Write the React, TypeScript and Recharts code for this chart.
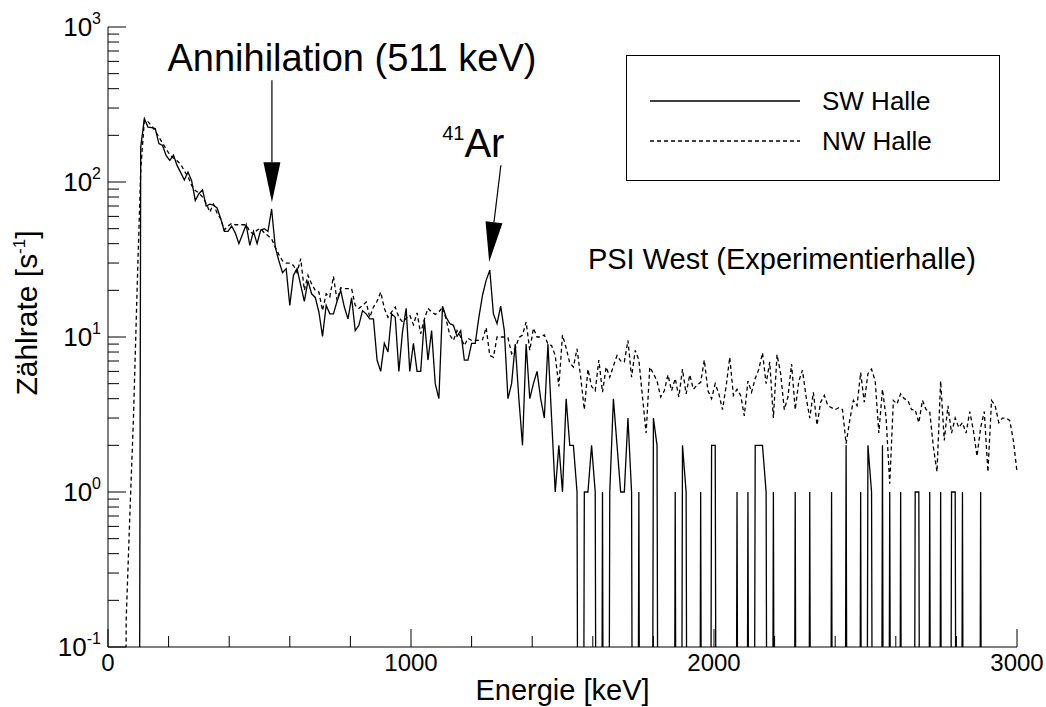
import React from 'react';
import { LineChart, Line, XAxis, YAxis, Legend, ReferenceDot } from 'recharts';

const FONT = '"Liberation Sans", Arial, Helvetica, sans-serif';

// channel width of the spectra (keV); energy of channel i = i * BIN_KEV
const BIN_KEV = 12;

// SW Halle count rate [1/s] per channel (0 = no counts)
const swCounts = [
  0, 0, 0, 0, 0, 0, 0, 0, 0, 168,
  256, 226, 224, 221, 177, 172, 148, 138, 149, 128,
  115, 103, 116, 102, 76, 84, 89, 70, 72, 71,
  68, 58, 48, 48, 52, 47, 40, 46, 53, 39,
  48, 40, 49, 50, 48, 67, 38, 31, 26, 27.6,
  16, 25, 27.6, 21.6, 17, 23, 19, 18, 14.5, 10.1,
  16, 14.1, 14.1, 17, 20, 15.6, 13.1, 17.9, 11, 11.9,
  14.8, 14.1, 13.1, 13.1, 7.1, 6, 9.1, 8, 14.1, 13.4,
  6, 10.8, 15.3, 6, 9.1, 6, 6, 12.9, 7.1, 11,
  5, 4, 15.8, 13.4, 12.2, 11.9, 10.1, 11, 7.1, 7.1,
  9.1, 9.1, 13.4, 18.6, 23.2, 27, 14.1, 12.2, 15.8, 11,
  4, 5, 9, 4, 2, 9, 4, 5, 6, 4,
  3, 9, 3, 1, 2, 1, 4, 2, 2, 1,
  0, 1, 1, 2, 1, 0, 1, 0, 1, 4,
  2, 1, 1, 3, 1, 0, 1, 0, 0, 0,
  3, 2, 0, 0, 0, 0, 1, 0, 2, 1,
  0, 0, 0, 1, 0, 0, 2, 2, 0, 0,
  0, 0, 0, 1, 0, 0, 1, 0, 2, 2,
  2, 1, 0, 1, 0, 0, 0, 0, 0, 1,
  0, 0, 0, 1, 0, 0, 0, 0, 0, 1,
  0, 0, 0, 2, 0, 0, 0, 1, 0, 2,
  1, 0, 0, 2, 0, 1, 0, 0, 1, 0,
  0, 0, 1, 1, 0, 0, 1, 0, 0, 1,
  0, 0, 1, 1, 0, 1, 0, 0, 0, 0,
  1, 0, 0, 0, 0, 0, 0, 0, 0, 0, 0,
];

// NW Halle count rate [1/s] per channel
const nwCounts = [
  0, 0, 0, 0, 0, 0.15, 0.7, 3, 20, 120,
  250, 245, 230, 213, 195, 178, 163, 150, 143, 137,
  130, 118, 108, 95, 88, 85, 80, 73, 64, 72,
  63, 58, 49, 52, 54, 53, 53, 53, 53, 48,
  46, 49, 50, 47, 45, 43, 38, 34, 31, 30,
  30, 29, 26, 32, 20, 25, 22, 20, 19.5, 14.8,
  19, 18.1, 24.6, 17.2, 20.8, 20.5, 20.5, 20.5, 16, 15.3,
  16, 16.8, 13.4, 15.6, 17, 19.5, 15.3, 13.4, 14.5, 15.6,
  13.4, 12.5, 13.2, 13.8, 12, 14.3, 10.5, 13, 15.3, 14.5,
  14, 14.5, 15.6, 13, 10.3, 9.5, 11, 10, 8.8, 9.8,
  9.5, 9.5, 9.5, 9.6, 11.5, 7.6, 7.4, 10, 10, 10,
  9.9, 7.8, 8.4, 9.9, 10.3, 12.5, 8.2, 11.4, 10, 10,
  10.3, 9, 8.8, 7.6, 4.8, 10.3, 8.5, 6.8, 6.4, 8.4,
  5.5, 3.4, 6.2, 4.8, 4.5, 7.1, 4.4, 6.4, 5.5, 6.5,
  7.6, 7, 6.9, 9.5, 5.5, 8.2, 7.1, 4.1, 2.4, 6.4,
  5.8, 5.2, 4.1, 4.5, 5.7, 4.5, 5.4, 4.1, 6.2, 4.3,
  5.7, 4.6, 4.9, 5.1, 7.1, 4.5, 4, 5, 4.3, 3.4,
  4.8, 7.4, 4.2, 4.6, 4.2, 3.1, 5.2, 4.4, 5.4, 6.2,
  7.9, 5, 6.9, 3, 7.7, 5.8, 3.4, 4.1, 6.7, 3.4,
  5.2, 6.1, 4.1, 3, 4.4, 2.7, 3.8, 4.2, 3.6, 3.5,
  3.4, 3.5, 3.4, 2.05, 2.9, 3.9, 3.6, 5.9, 3.8, 5.8,
  6.2, 5.2, 2.4, 4.6, 3, 1.13, 3.9, 3.7, 4.3, 4,
  3.9, 3.4, 3.4, 2.8, 3.9, 3.4, 3.3, 1.95, 1.35, 5.2,
  2.15, 3.6, 2.4, 3, 2.6, 2.8, 2.4, 3.3, 2.5, 1.7,
  2.6, 3.3, 1.35, 3.9, 3.6, 2.8, 3, 3, 2.9, 2.15, 1.35,
];

const xTicks = [0, 200, 400, 600, 800, 1000, 1200, 1400, 1600, 1800, 2000, 2200, 2400, 2600, 2800, 3000];
const xLabelTicks = [0, 1000, 2000, 3000];
const yTicks = [
  0.1, 0.2, 0.3, 0.4, 0.5, 0.6, 0.7, 0.8, 0.9,
  1, 2, 3, 4, 5, 6, 7, 8, 9,
  10, 20, 30, 40, 50, 60, 70, 80, 90,
  100, 200, 300, 400, 500, 600, 700, 800, 900, 1000,
];
const yDecadeLabels: Record<string, string> = { '0.1': '-1', '1': '0', '10': '1', '100': '2', '1000': '3' };

const series = [
  { key: 'sw', name: 'SW Halle', dash: undefined as string | undefined },
  { key: 'nw', name: 'NW Halle', dash: '4 3' },
];

// log axis cannot show zero counts: draw them far below the axis (clipped)
const ZERO_FLOOR = 1e-9;
const data = swCounts.map((sw, i) => ({
  e: i * BIN_KEV,
  sw: sw > 0 ? sw : ZERO_FLOOR,
  nw: nwCounts[i] > 0 ? nwCounts[i] : ZERO_FLOOR,
}));

const renderXTick = (props: any) => {
  const { x, y, payload } = props;
  const major = xLabelTicks.includes(payload.value);
  return (
    <g>
      <line x1={x} x2={x} y1={y} y2={y - (major ? 18 : 11)} stroke="#000" strokeWidth={1} />
      {major && (
        <text x={x} y={y + 24} textAnchor="middle" fontSize={24} fontFamily={FONT} fill="#000">
          {payload.value}
        </text>
      )}
    </g>
  );
};

const renderYTick = (props: any) => {
  const { x, y, payload } = props;
  const exp = yDecadeLabels[String(payload.value)];
  const major = exp !== undefined;
  return (
    <g>
      <line x1={x} x2={x + (major ? 18 : 11)} y1={y} y2={y} stroke="#000" strokeWidth={1} />
      {major && (
        <text x={x - 7} y={y + 9} textAnchor="end" fontSize={26} fontFamily={FONT} fill="#000">
          10
          <tspan fontSize={16} dy={-12}>{exp}</tspan>
        </text>
      )}
    </g>
  );
};

const renderXTitle = (props: any) => {
  const vb = props.viewBox || { x: 108, y: 647, width: 909, height: 60 };
  return (
    <text x={vb.x + vb.width / 2} y={vb.y + 53} textAnchor="middle" fontSize={29} fontFamily={FONT} fill="#000">
      Energie [keV]
    </text>
  );
};

const renderYTitle = () => (
  <text x={37} y={313} transform="rotate(-90, 37, 313)" textAnchor="middle" fontSize={30} fontFamily={FONT} fill="#000">
    Zählrate [s
    <tspan fontSize={17} dy={-12}>-1</tspan>
    <tspan dy={12}>]</tspan>
  </text>
);

const AnnihilationMark = (props: any) => {
  const { cx, cy } = props;
  return (
    <g>
      <line x1={cx} y1={cy - 122} x2={cx} y2={cy - 40} stroke="#000" strokeWidth={1.2} />
      <polygon points={`${cx - 8.5},${cy - 40} ${cx + 8.5},${cy - 40} ${cx},${cy}`} fill="#000" />
      <text x={cx + 80} y={cy - 131} textAnchor="middle" fontSize={38} fontFamily={FONT} fill="#000">
        Annihilation (511 keV)
      </text>
    </g>
  );
};

const ArgonMark = (props: any) => {
  const { cx, cy } = props;
  const ux = 0.12, uy = -0.993; // from tip towards arrow tail
  const bx = cx + 40 * ux, by = cy + 40 * uy;
  const px = 8.5 * 0.993, py = 8.5 * 0.12;
  return (
    <g>
      <line x1={cx + 11.7} y1={cy - 96.7} x2={bx} y2={by} stroke="#000" strokeWidth={1.2} />
      <polygon points={`${bx - px},${by - py} ${bx + px},${by + py} ${cx},${cy}`} fill="#000" />
      <text x={cx - 47} y={cy - 105} fontSize={40} fontFamily={FONT} fill="#000">
        <tspan fontSize={20} dy={-17}>41</tspan>
        <tspan dy={17}>Ar</tspan>
      </text>
    </g>
  );
};

const SiteLabel = (props: any) => {
  const { cx, cy } = props;
  return (
    <text x={cx} y={cy} fontSize={29} fontFamily={FONT} fill="#000">
      PSI West (Experimentierhalle)
    </text>
  );
};

const LegendBox = () => (
  <div style={{ width: 374, height: 126, border: '1px solid #000', boxSizing: 'border-box', background: '#fff' }}>
    <svg width={372} height={124} style={{ display: 'block' }}>
      {series.map((s, i) => (
        <g key={s.key}>
          <line x1={23} x2={173} y1={45 + i * 40} y2={45 + i * 40} stroke="#000" strokeWidth={1.3} strokeDasharray={s.dash} />
          <text x={195} y={54 + i * 40} fontSize={26} fontFamily={FONT} fill="#000">
            {s.name}
          </text>
        </g>
      ))}
    </svg>
  </div>
);

export default function App() {
  return (
    <div style={{ position: 'absolute', left: 0, top: 0, width: 1046, height: 707, background: '#fff' }}>
      <LineChart width={1046} height={707} data={data} margin={{ top: 27, right: 29, bottom: 0, left: 0 }}>
        <XAxis
          dataKey="e"
          type="number"
          domain={[0, 3000]}
          ticks={xTicks}
          interval={0}
          height={60}
          tickSize={0}
          tickMargin={0}
          tickLine={false}
          axisLine={{ stroke: '#000', strokeWidth: 1 }}
          tick={renderXTick}
          label={renderXTitle}
        />
        <YAxis
          type="number"
          scale="log"
          domain={[0.1, 1000]}
          allowDataOverflow
          ticks={yTicks}
          interval={0}
          width={108}
          tickSize={0}
          tickMargin={0}
          tickLine={false}
          axisLine={{ stroke: '#000', strokeWidth: 1 }}
          tick={renderYTick}
          label={renderYTitle}
        />
        {series.map((s) => (
          <Line
            key={s.key}
            dataKey={s.key}
            name={s.name}
            type="linear"
            stroke="#000"
            strokeWidth={1.3}
            strokeDasharray={s.dash}
            dot={false}
            activeDot={false}
            isAnimationActive={false}
          />
        ))}
        <ReferenceDot x={541} y={74} r={0} shape={AnnihilationMark} />
        <ReferenceDot x={1258} y={30.5} r={0} shape={ArgonMark} />
        <ReferenceDot x={1584} y={27.3} r={0} shape={SiteLabel} />
        <Legend
          layout="horizontal"
          verticalAlign="middle"
          align="center"
          wrapperStyle={{ position: 'absolute', left: 626, top: 55, width: 374, height: 126 }}
          content={() => <LegendBox />}
        />
      </LineChart>
    </div>
  );
}
